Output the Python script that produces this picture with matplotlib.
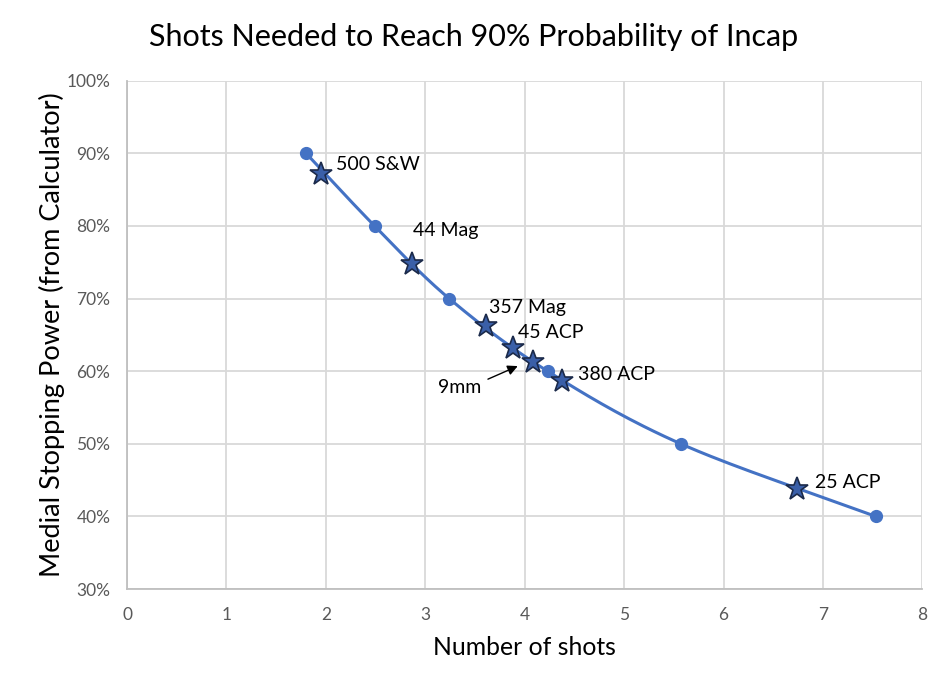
import numpy as np
import matplotlib.pyplot as plt
from matplotlib.ticker import PercentFormatter

plt.rcParams['font.family'] = ['Lato', 'DejaVu Sans']

# curve points (shots needed, stopping power)
shots = [1.80, 2.49, 3.24, 4.23, 5.57, 7.53]
power = [0.90, 0.80, 0.70, 0.60, 0.50, 0.40]

# cartridges
names = ['500 S&W', '44 Mag', '357 Mag', '45 ACP', '9mm', '380 ACP', '25 ACP']
cart_shots = [1.95, 2.87, 3.61, 3.88, 4.08, 4.38, 6.74]
cart_power = [0.871, 0.747, 0.662, 0.632, 0.613, 0.587, 0.438]


def smooth(x, y, n=30):
    # catmull-rom through the points, like excel's smoothed line
    x = np.asarray(x); y = np.asarray(y)
    px = np.concatenate([[2 * x[0] - x[1]], x, [2 * x[-1] - x[-2]]])
    py = np.concatenate([[2 * y[0] - y[1]], y, [2 * y[-1] - y[-2]]])
    xs, ys = [], []
    t = np.linspace(0, 1, n)
    for i in range(1, len(px) - 2):
        for p, out in ((px, xs), (py, ys)):
            p0, p1, p2, p3 = p[i - 1], p[i], p[i + 1], p[i + 2]
            out.extend(0.5 * ((2 * p1) + (-p0 + p2) * t
                              + (2 * p0 - 5 * p1 + 4 * p2 - p3) * t ** 2
                              + (-p0 + 3 * p1 - 3 * p2 + p3) * t ** 3))
    return xs, ys


fig = plt.figure(figsize=(9.48, 6.89), dpi=100)
ax = fig.add_axes([0.134, 0.145, 0.839, 0.738])

blue = '#4472C4'
sx, sy = smooth(shots, power)
ax.plot(sx, sy, color=blue, lw=2.2, zorder=3)
ax.plot(shots, power, 'o', color=blue, ms=8.5, zorder=4)
ax.plot(cart_shots, cart_power, '*', ms=17, markerfacecolor='#3A5FA8',
        markeredgecolor='#1B2A4A', markeredgewidth=1.2, zorder=5)

# label offsets from each star (text baseline, left edge)
offsets = {'500 S&W': (0.15, 0.0055), '44 Mag': (0.01, 0.0395),
           '357 Mag': (0.03, 0.018), '45 ACP': (0.05, 0.0135),
           '380 ACP': (0.16, 0.001), '25 ACP': (0.18, 0.001)}
for name, xv, yv in zip(names, cart_shots, cart_power):
    if name in offsets:
        dx, dy = offsets[name]
        ax.text(xv + dx, yv + dy, name, fontsize=14, va='baseline', ha='left')
i9 = names.index('9mm')
ax.text(cart_shots[i9] - 0.52, cart_power[i9] - 0.043, '9mm', fontsize=14,
        va='baseline', ha='right')
ax.annotate('', xy=(cart_shots[i9] - 0.15, cart_power[i9] - 0.006),
            xytext=(cart_shots[i9] - 0.45, cart_power[i9] - 0.024),
            arrowprops=dict(arrowstyle='-|>', color='black', lw=1,
                            mutation_scale=15, shrinkA=0, shrinkB=0))

ax.set_xlim(0, 8)
ax.set_ylim(0.3, 1.0)
ax.set_xticks(range(0, 9))
ax.set_yticks(np.arange(0.3, 1.01, 0.1))
ax.yaxis.set_major_formatter(PercentFormatter(1.0, decimals=0))
ax.grid(color='#D9D9D9', lw=1.3)
ax.set_axisbelow(True)
for s in ['top', 'right']:
    ax.spines[s].set_visible(False)
for s in ['left', 'bottom']:
    ax.spines[s].set_color('#BFBFBF')
    ax.spines[s].set_linewidth(1.3)
ax.tick_params(length=0, labelsize=12.5, labelcolor='#595959')
ax.tick_params(axis='x', pad=13)
ax.tick_params(axis='y', pad=12)

ax.set_xlabel('Number of shots', fontsize=17.8, labelpad=9)
ax.set_ylabel('Medial Stopping Power (from Calculator)', fontsize=19.5, labelpad=1)
fig.suptitle('Shots Needed to Reach 90% Probability of Incap', fontsize=22,
             x=0.5, y=0.967)

plt.savefig('out.png', dpi=100)
